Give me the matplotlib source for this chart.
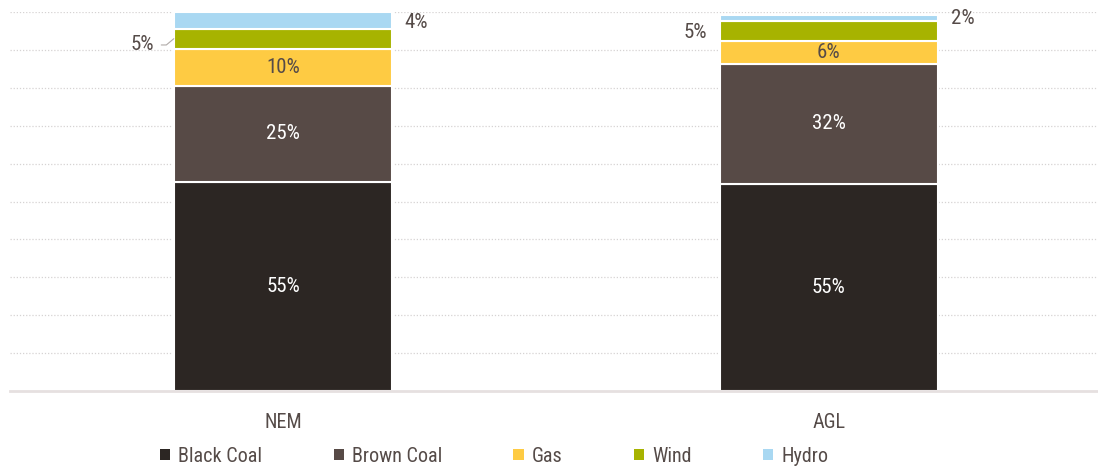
import numpy as np
import matplotlib.pyplot as plt
from matplotlib.patches import Patch

plt.rcParams['font.family'] = ['Roboto Condensed', 'DejaVu Sans']

regions = ['NEM', 'AGL']
sources = ['Black Coal', 'Brown Coal', 'Gas', 'Wind', 'Hydro']
black_coal = [55.2, 54.6]
brown_coal = [25.3, 31.7]
gas = [9.8, 6.1]
wind = [5.3, 5.3]
hydro = [4.4, 1.6]

colors = ['#2c2623', '#574a46', '#fecb43', '#a7b300', '#a9d8f2']
text_col = '#554b48'
fs = 14.5

fig = plt.figure(figsize=(10.98, 4.67), dpi=100)
ax = fig.add_axes([10/1098, 76/467, 1088/1098, 379/467])

x = np.arange(len(regions))
w = 0.4
series = [black_coal, brown_coal, gas, wind, hydro]
bottom = np.zeros(len(regions))
mids = []
for vals, c in zip(series, colors):
    vals = np.array(vals)
    ax.bar(x, vals, w, bottom=bottom, color=c, edgecolor='white', linewidth=1.5, zorder=2)
    mids.append(bottom + vals / 2)
    bottom = bottom + vals

# labels inside bars
inside_col = ['white', 'white', text_col]
for k in range(3):
    for i in range(len(regions)):
        ax.text(x[i], mids[k][i], f"{series[k][i]:.0f}%", ha='center', va='center',
                color=inside_col[k], fontsize=15)

# wind labels on the left
ax.annotate(f"{wind[0]:.0f}%", xy=(x[0] - w/2, mids[3][0]), xytext=(-14, -4.5),
            textcoords='offset points', ha='right', va='center', fontsize=15, color=text_col,
            arrowprops=dict(arrowstyle='-', color='#b0aaa8', lw=0.8, shrinkA=3, shrinkB=0,
                            connectionstyle='angle,angleA=0,angleB=40,rad=0'))
ax.annotate(f"{wind[1]:.0f}%", xy=(x[1] - w/2, mids[3][1]), xytext=(-9, -1),
            textcoords='offset points', ha='right', va='center', fontsize=15, color=text_col)

# hydro labels on the right
offs = [-1.2, -0.4]
for i in range(len(regions)):
    ax.annotate(f"{hydro[i]:.0f}%", xy=(x[i] + w/2, mids[4][i]), xytext=(9, offs[i]),
                textcoords='offset points', ha='left', va='center', fontsize=15, color=text_col)

ax.set_xlim(-0.5, 1.493)
ax.set_ylim(0, 100)
ax.set_yticks(np.arange(10, 101, 10))
ax.yaxis.grid(True, linestyle=(0, (1, 1.5)), color='#d6d3d3', linewidth=0.9)
ax.set_axisbelow(True)
ax.tick_params(left=False, bottom=False, labelleft=False)
ax.set_xticks(x)
ax.set_xticklabels(regions, fontsize=fs, color=text_col)
ax.tick_params(axis='x', pad=12)
for s in ['top', 'right', 'left']:
    ax.spines[s].set_visible(False)
ax.spines['bottom'].set_color('#e6e0e0')
ax.spines['bottom'].set_linewidth(2)

handles = [Patch(facecolor=c, label=s) for s, c in zip(sources, colors)]
leg = fig.legend(handles=handles, loc='center', bbox_to_anchor=(494/1098, 1 - 456/467),
                 ncol=5, frameon=False, fontsize=fs, handlelength=0.5, handleheight=0.5,
                 handletextpad=0.4, columnspacing=3.55)
for t in leg.get_texts():
    t.set_color(text_col)

fig.savefig('out.png', dpi=100)
